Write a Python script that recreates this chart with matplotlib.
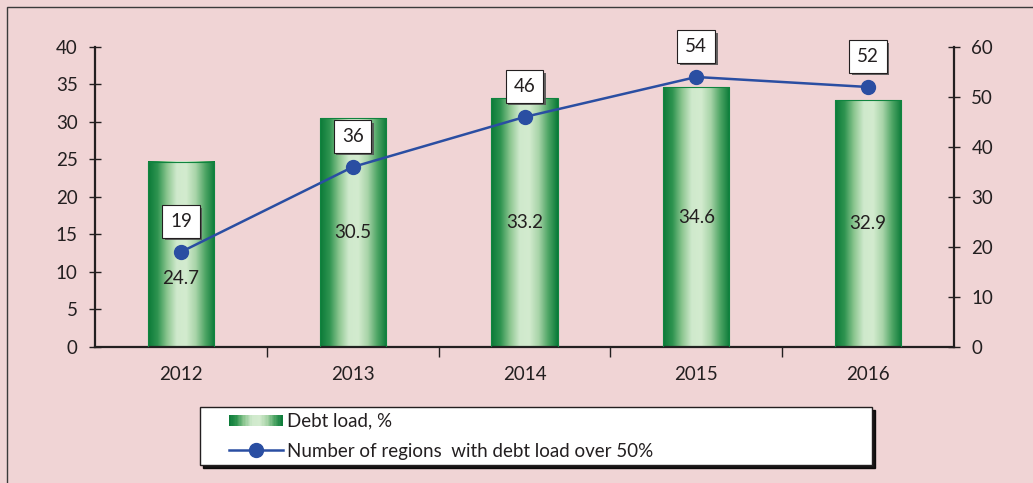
import matplotlib
matplotlib.use("Agg")
import matplotlib.pyplot as plt
import numpy as np
from matplotlib.colors import LinearSegmentedColormap
from matplotlib.legend_handler import HandlerBase
from matplotlib.lines import Line2D
from matplotlib.patches import Rectangle
import matplotlib.patheffects as pe

years = ["2012", "2013", "2014", "2015", "2016"]
debt_load = [24.7, 30.5, 33.2, 34.6, 32.9]
regions_over_50 = [19, 36, 46, 54, 52]
debt_label = "Debt load, %"
regions_label = "Number of regions  with debt load over 50%"

plt.rcParams["font.family"] = ["Lato", "DejaVu Sans"]
plt.rcParams["font.size"] = 13.5

BG = "#f0d4d5"
TEXT = "#231f20"
LINE_BLUE = "#2a4ea2"
BAR_EDGE = "#10843f"
FS = 13.5

green_cmap = LinearSegmentedColormap.from_list(
    "bar_green",
    ["#0a7a38", "#2f9450", "#8cc690", "#cfe9cc", "#d3ebcf", "#a8d4a8", "#4ea565", "#0a7a38"],
)

# fraction of the legend handle area left empty before the key itself
KEY_SKIP = 0.30


class HandlerGradient(HandlerBase):
    """Legend key drawn as a row of thin slices of the bar gradient."""

    def create_artists(self, legend, orig_handle, xdescent, ydescent,
                       width, height, fontsize, trans):
        n = 40
        x0 = -xdescent + width * KEY_SKIP
        w = width * (1 - KEY_SKIP)
        artists = []
        for i in range(n):
            r = Rectangle((x0 + w * i / n, -ydescent + height * 0.05),
                          w / n * 1.05, height * 0.8,
                          facecolor=green_cmap((i + 0.5) / n), edgecolor="none",
                          transform=trans)
            artists.append(r)
        return artists


class HandlerLineKey(HandlerBase):
    """Line with a single marker in the middle, shifted right like the bar key."""

    def create_artists(self, legend, orig_handle, xdescent, ydescent,
                       width, height, fontsize, trans):
        x0 = -xdescent + width * KEY_SKIP
        x1 = -xdescent + width
        y = -ydescent + height / 2
        line = Line2D([x0, x1], [y, y], color=orig_handle.get_color(),
                      linewidth=orig_handle.get_linewidth(), transform=trans)
        mark = Line2D([(x0 + x1) / 2], [y], color=orig_handle.get_color(),
                      marker="o", markersize=orig_handle.get_markersize(),
                      linestyle="none", transform=trans)
        return [line, mark]


fig = plt.figure(figsize=(10.33, 4.83), dpi=100, facecolor=BG)
ax = fig.add_axes([0.092, 0.2816, 0.8315, 0.6211])
ax.set_facecolor("none")

x = np.arange(len(years))
bar_w = 0.385
grad = np.linspace(0, 1, 256).reshape(1, -1)
for xi, val in zip(x, debt_load):
    ax.imshow(grad, cmap=green_cmap, aspect="auto", zorder=2,
              extent=[xi - bar_w / 2, xi + bar_w / 2, 0, val], interpolation="bilinear")
ax.bar(x, debt_load, width=bar_w, facecolor="none", edgecolor=BAR_EDGE,
       linewidth=0.8, zorder=3)

for i, (xi, val) in enumerate(zip(x, debt_load)):
    # first label sits lower so it does not collide with the line marker
    ypos = val / 2 if i > 0 else val * 0.37
    ax.text(xi, ypos, f"{val:.1f}", ha="center", va="center", color=TEXT,
            fontsize=FS, zorder=4)

ax.set_xlim(-0.5, len(years) - 0.5)
ax.set_ylim(0, 40)
ax.set_yticks(np.arange(0, 41, 5))
ax.set_xticks(x)
ax.set_xticklabels(years)
ax.set_xticks(np.arange(0.5, len(years) - 0.5, 1), minor=True)
ax.tick_params(axis="x", which="major", length=0, pad=14, colors=TEXT)
ax.tick_params(axis="x", which="minor", length=7, direction="out", width=1, color=TEXT)
ax.tick_params(axis="y", direction="inout", length=9, width=1, pad=8, colors=TEXT)
for side in ["top", "right"]:
    ax.spines[side].set_visible(False)
for side in ["left", "bottom"]:
    ax.spines[side].set_linewidth(1.6)
    ax.spines[side].set_color(TEXT)

ax2 = ax.twinx()
ax2.set_ylim(0, 60)
ax2.set_yticks(np.arange(0, 61, 10))
ax2.tick_params(axis="y", direction="inout", length=9, width=1, pad=8, colors=TEXT)
for side in ["top", "left", "bottom"]:
    ax2.spines[side].set_visible(False)
ax2.spines["right"].set_linewidth(1.6)
ax2.spines["right"].set_color(TEXT)

ax2.plot(x, regions_over_50, color=LINE_BLUE, linewidth=1.8, marker="o",
         markersize=10, zorder=5)
for xi, val in zip(x, regions_over_50):
    t = ax2.annotate(str(val), (xi, val), xytext=(0, 22), textcoords="offset points",
                     ha="center", va="center", fontsize=FS, color=TEXT, zorder=6,
                     bbox=dict(boxstyle="square,pad=0.42", fc="white", ec=TEXT, lw=0.8))
    t.get_bbox_patch().set_path_effects([
        pe.SimplePatchShadow(offset=(1.8, -1.8), shadow_rgbFace="#555555", alpha=0.9),
        pe.Normal(),
    ])

bar_proxy = Rectangle((0, 0), 1, 1)
line_proxy = Line2D([], [], color=LINE_BLUE, linewidth=1.8, marker="o", markersize=10)
leg = fig.legend(
    [bar_proxy, line_proxy], [debt_label, regions_label],
    handler_map={Rectangle: HandlerGradient(), Line2D: HandlerLineKey()},
    loc="upper left",
    bbox_to_anchor=(200 / 1033, 1 - 468 / 483, 672 / 1033, 61 / 483),
    mode="expand", fancybox=False, framealpha=1, edgecolor=TEXT,
    shadow={"color": "black", "alpha": 0.9}, handlelength=4.1, handletextpad=0.25,
    borderpad=0.3, labelspacing=0.7, borderaxespad=0, fontsize=FS,
)
leg.get_frame().set_linewidth(1.0)
for txt in leg.get_texts():
    txt.set_color(TEXT)

# outer frame of the figure panel
fig.add_artist(Rectangle((7 / 1033, -0.1), 1.2, 1 - 7 / 483 + 0.1,
                         transform=fig.transFigure, fill=False,
                         edgecolor="#3a3a3a", linewidth=1.0))

fig.savefig("out.png", dpi=100, facecolor=BG)
